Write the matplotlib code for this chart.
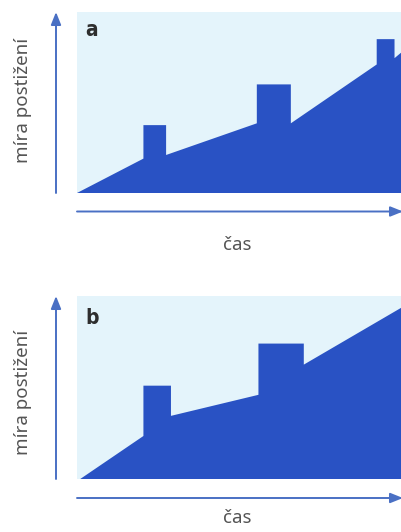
import matplotlib.pyplot as plt

# panel a: time vs. degree of impairment (relative units 0-10)
time_a = [0, 2.05, 2.05, 2.75, 2.75, 5.55, 5.55, 6.6, 6.6, 9.25, 9.25, 9.8, 9.8, 10]
level_a = [0, 1.9, 3.75, 3.75, 2.1, 3.85, 6.0, 6.0, 3.85, 7.1, 8.5, 8.5, 7.45, 7.75]

# panel b
time_b = [0.1, 2.05, 2.05, 2.9, 2.9, 5.6, 5.6, 7.0, 7.0, 10]
level_b = [0, 2.35, 5.1, 5.1, 3.45, 4.6, 7.4, 7.4, 6.25, 9.35]

panel_labels = ["a", "b"]
ylabel = "míra postižení"
xlabel = "čas"

bg = "#e4f4fb"
fill_col = "#2952c4"
arrow_col = "#4a70c4"
text_col = "#555555"

W, H = 401, 532
fig = plt.figure(figsize=(W / 100, H / 100), dpi=100)

# overlay in pixel coordinates for arrows and labels
ov = fig.add_axes([0, 0, 1, 1])
ov.set_xlim(0, W)
ov.set_ylim(H, 0)
ov.axis("off")

# top, bottom, horizontal arrow y, ylabel centre, xlabel y, letter y
panels = [
    (time_a, level_a, 12, 193, 211.5, 100, 245, 30),
    (time_b, level_b, 296, 479, 498, 392, 518, 318),
]

for (tx, ly, top, bottom, harrow, ylab_y, xlab_y, let_y), lab in zip(panels, panel_labels):
    ax = fig.add_axes([77 / W, (H - bottom) / H, 1 - 77 / W, (bottom - top) / H])
    ax.set_facecolor(bg)
    ax.fill(tx + [10], ly + [0], color=fill_col, lw=0)
    ax.set_xlim(0, 10)
    ax.set_ylim(0, 10)
    ax.set_xticks([])
    ax.set_yticks([])
    for s in ax.spines.values():
        s.set_visible(False)
    ax.zorder = 0

    # axis arrows
    ov.annotate("", xy=(56, top), xytext=(56, bottom), annotation_clip=False,
                arrowprops=dict(arrowstyle="-|>,head_length=0.75,head_width=0.3",
                                color=arrow_col, lw=1.4, shrinkA=0, shrinkB=0))
    ov.annotate("", xy=(403, harrow), xytext=(77, harrow), annotation_clip=False,
                arrowprops=dict(arrowstyle="-|>,head_length=0.75,head_width=0.3",
                                color=arrow_col, lw=1.4, shrinkA=0, shrinkB=0))

    ov.text(23, ylab_y, ylabel, rotation=90, ha="center", va="center",
            fontsize=13.5, color=text_col, family="Noto Sans")
    ov.text(237, xlab_y, xlabel, ha="center", va="center",
            fontsize=13.5, color=text_col, family="Noto Sans")
    ov.text(85, let_y, lab, ha="left", va="center", fontsize=15,
            fontweight="bold", fontstretch="condensed", color="#2e2e2e",
            family="DejaVu Sans")

ov.zorder = 5
ov.patch.set_visible(False)

fig.savefig("out.png", dpi=100)
